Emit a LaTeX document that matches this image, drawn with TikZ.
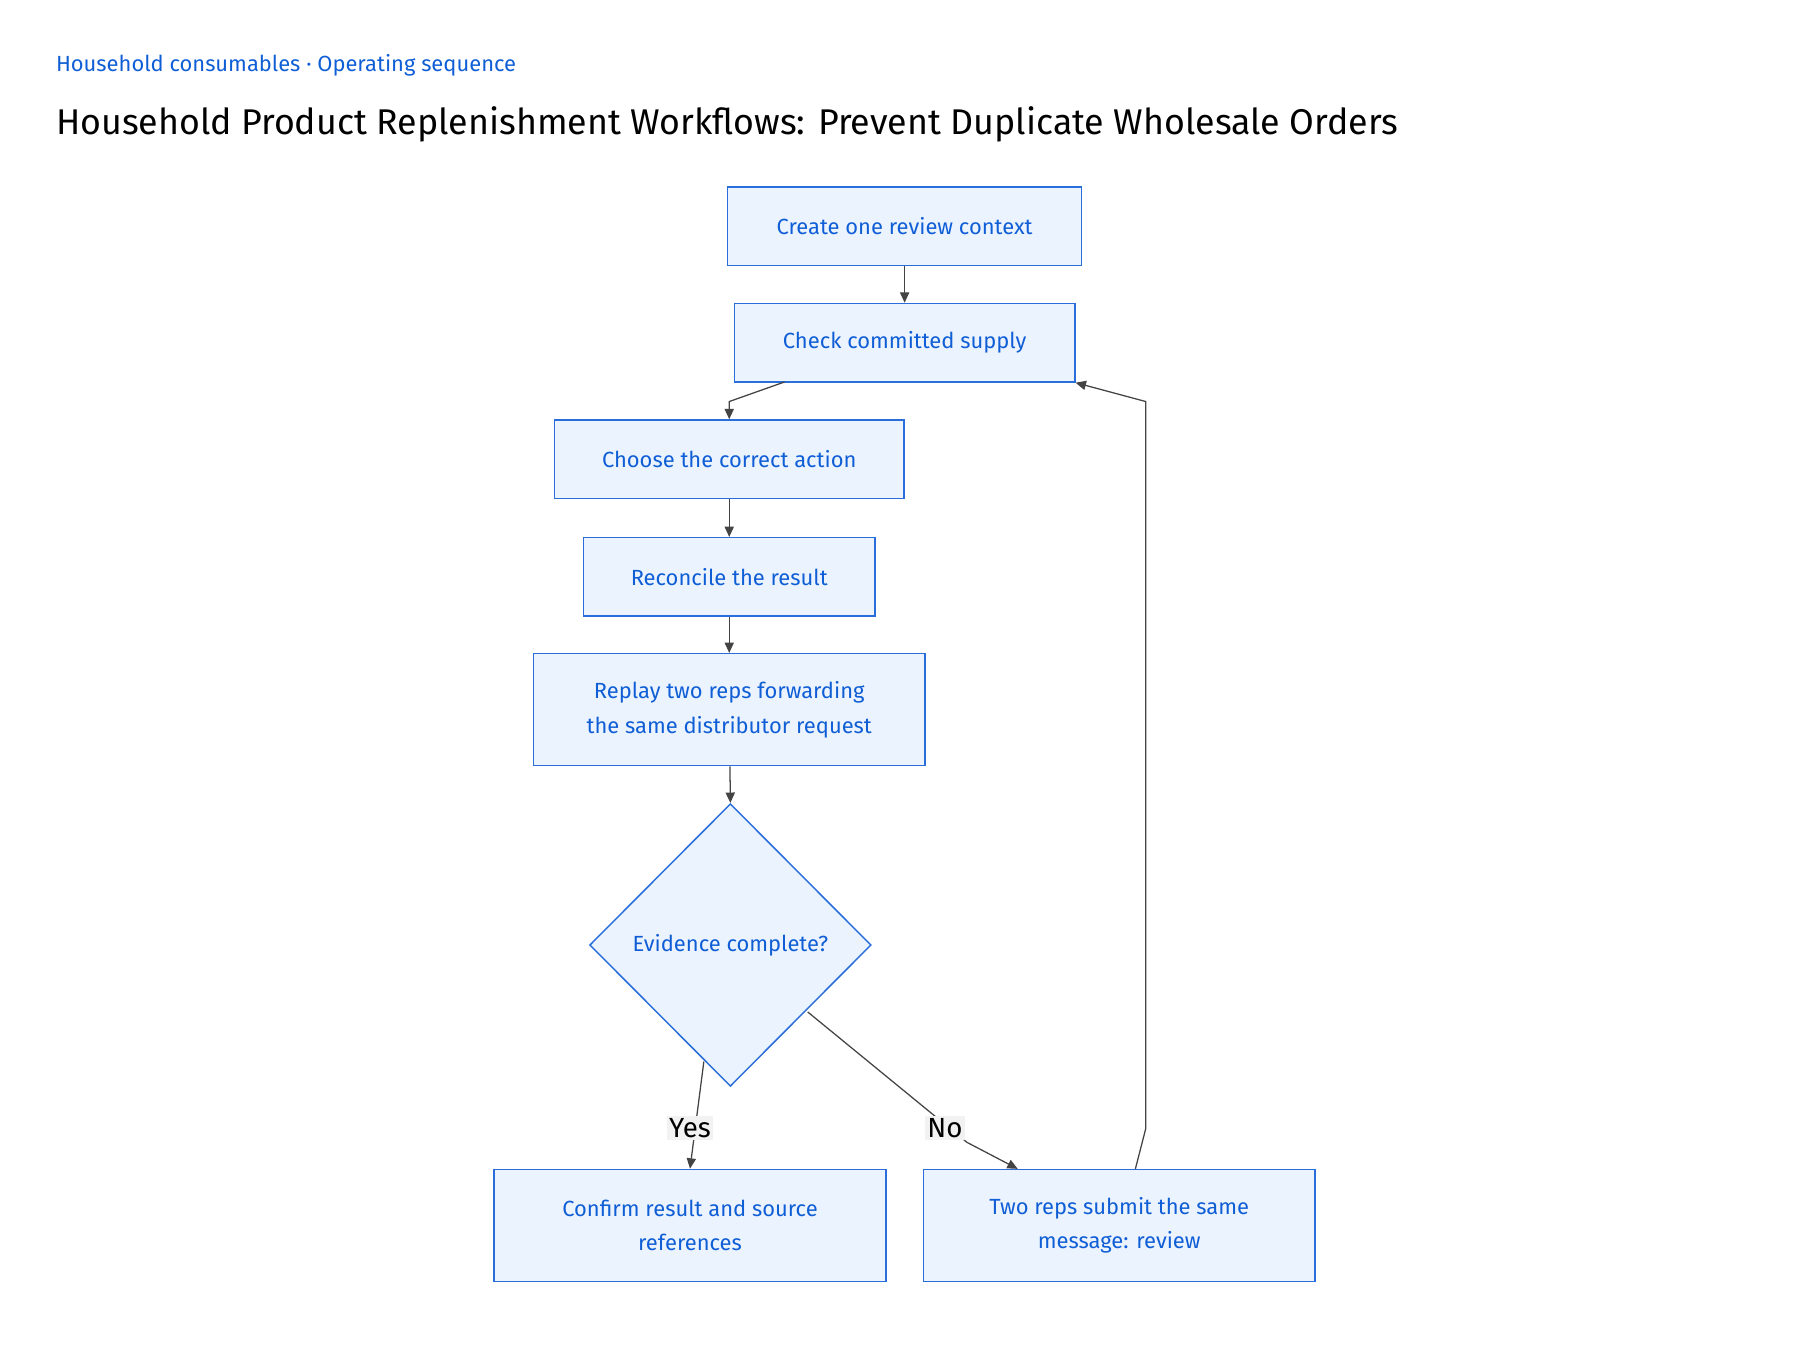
\documentclass[tikz,border=0pt]{standalone}
\usepackage{fontspec}
\setmainfont{Fira Sans}
\usetikzlibrary{shapes.geometric,arrows.meta}
\definecolor{boxfill}{HTML}{EBF3FE}
\definecolor{boxline}{HTML}{2A6EDB}
\definecolor{boxtext}{HTML}{0F5ED6}
\definecolor{edgecol}{HTML}{444444}
\tikzset{
  stepbox/.style={draw=boxline,fill=boxfill,text=boxtext,line width=1.3pt,
    align=center,font=\fontsize{19}{30}\selectfont,inner sep=0pt},
  choice/.style={draw=boxline,fill=boxfill,text=boxtext,line width=1.3pt,
    diamond,minimum width=244pt,minimum height=245pt,inner sep=0pt,
    font=\fontsize{19}{30}\selectfont},
  flow/.style={draw=edgecol,line width=1.1pt,-{Triangle[length=9pt,width=8pt]}},
  edgelabel/.style={fill=black!5,font=\fontsize{24}{28}\selectfont,inner sep=2pt}
}
\begin{document}
\begin{tikzpicture}[x=1pt,y=-1pt]
\useasboundingbox (0,0) rectangle (1560,1170);
\node[anchor=west,text=boxtext,font=\fontsize{19}{22}\selectfont] (sub) at (45,57) {Household consumables · Operating sequence};
\node[anchor=west,font=\fontsize{31}{36}\selectfont] (title) at (45,108) {Household Product Replenishment Workflows: Prevent Duplicate Wholesale Orders};

\node[stepbox,minimum width=307pt,minimum height=68pt] (ctx) at (784,196) {Create one review context};
\node[stepbox,minimum width=295pt,minimum height=68pt] (chk) at (784,297) {Check committed supply};
\node[stepbox,minimum width=303pt,minimum height=68pt] (act) at (632,398) {Choose the correct action};
\node[stepbox,minimum width=253pt,minimum height=68pt] (rec) at (632,500) {Reconcile the result};
\node[stepbox,minimum width=339pt,minimum height=97pt] (rep) at (632,615) {Replay two reps forwarding\\the same distributor request};
\node[choice] (evd) at (633,819) {Evidence complete?};
\node[stepbox,minimum width=340pt,minimum height=97pt] (cnf) at (598,1062) {Confirm result and source\\references};
\node[stepbox,minimum width=339pt,minimum height=97pt] (two) at (970,1062) {Two reps submit the same\\message: review};

\coordinate (b1) at (632,348);
\coordinate (b2) at (993,978);
\coordinate (b3) at (993,348);

\draw[flow] (ctx) -- (chk);
\draw[flow] (680,331) -- (b1) -- (act.north);
\draw[flow] (act) -- (rec);
\draw[flow] (rec) -- (rep);
\draw[flow] (rep) -- (evd.north);
\draw[flow] (610,920) -- (cnf.north);
\draw[flow] (700,877) -- (838,990) -- (882,1013);
\draw[flow] (984,1013) -- (b2) -- (b3) -- (chk.south east);

\node[edgelabel] (yes) at (598,978) {Yes};
\node[edgelabel] (no) at (819,978) {No};
\end{tikzpicture}
\end{document}
